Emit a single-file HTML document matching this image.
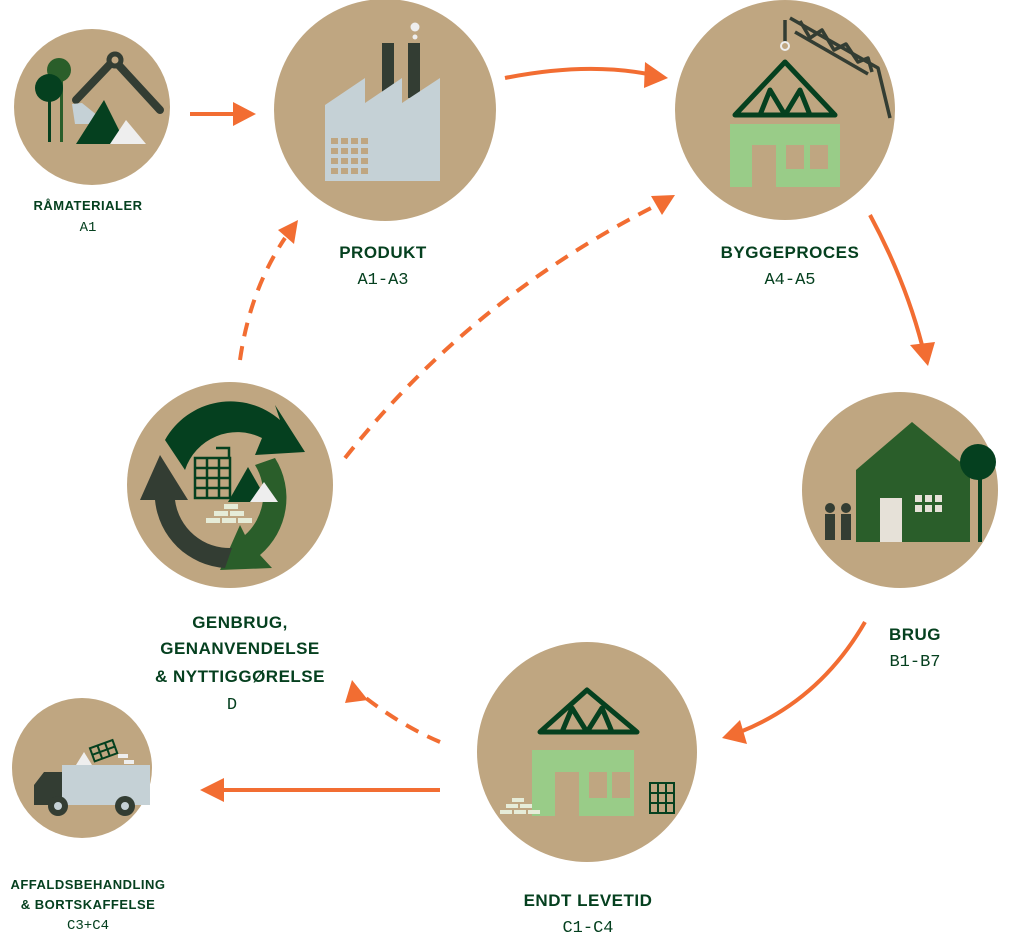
<!DOCTYPE html>
<html><head><meta charset="utf-8"><style>
body{margin:0;background:#fff}
svg{display:block}
.t{font-family:"Liberation Sans",sans-serif;font-weight:bold;fill:#05401f;text-anchor:middle;letter-spacing:0.5px}
.s{font-family:"Liberation Mono",monospace;fill:#05401f;text-anchor:middle}
</style></head><body>
<svg width="1024" height="942" viewBox="0 0 1024 942">
<g fill="#bfa681">
<circle cx="92" cy="107" r="78"/>
<circle cx="385" cy="110" r="111"/>
<circle cx="785" cy="110" r="110"/>
<circle cx="900" cy="490" r="98"/>
<circle cx="587" cy="752" r="110"/>
<circle cx="230" cy="485" r="103"/>
<circle cx="82" cy="768" r="70"/>
</g>
<!-- arrows -->
<g stroke="#f26d32" stroke-width="4" fill="none">
<path d="M190 114 L235 114"/>
<path d="M505 78 Q585 62 648 74"/>
<path d="M870 215 Q905 280 922 345"/>
<path d="M865 622 Q820 700 740 732"/>
<path d="M440 790 L222 790"/>
<g stroke-dasharray="14 10">
<path d="M240 360 Q250 290 285 238"/>
<path d="M345 458 Q470 300 655 206"/>
<path d="M440 742 Q400 725 362 695"/>
</g>
</g>
<g fill="#f26d32">
<path d="M233 102 L256 114 L233 126z"/>
<path d="M645 62 L668 78 L644 88z"/>
<path d="M910 345 L935 342 L928 366z"/>
<path d="M740 720 L722 738 L747 744z"/>
<path d="M224 778 L200 790 L224 802z"/>
<path d="M278 230 L298 220 L294 244z"/>
<path d="M651 196 L675 195 L662 215z"/>
<path d="M352 680 L345 703 L368 700z"/>
</g>
<!-- raw materials icon -->
<rect x="48" y="92" width="3" height="50" fill="#05401f"/>
<rect x="60" y="80" width="3" height="62" fill="#2a5e2a"/>
<circle cx="59" cy="70" r="12" fill="#2a5e2a"/>
<circle cx="49" cy="88" r="14" fill="#05401f"/>
<path d="M76 100 L114 60 L160 110" stroke="#333d33" stroke-width="8" fill="none" stroke-linecap="round"/>
<circle cx="115" cy="60" r="6" fill="#bfa681" stroke="#333d33" stroke-width="5"/>
<path d="M72 104 L82 103 L108 124 L75 124z" fill="#c5d1d6"/>
<path d="M76 144 L104 100 L126 144z" fill="#05401f"/>
<path d="M110 144 L126 120 L146 144z" fill="#eee"/>
<!-- factory -->
<rect x="382" y="43" width="12" height="50" fill="#333d33"/>
<rect x="408" y="43" width="12" height="55" fill="#333d33"/>
<circle cx="415" cy="27" r="4.5" fill="#eee"/><circle cx="415" cy="37" r="2.5" fill="#eee"/>
<path d="M325 105 L365 78 L365 103 L402 78 L402 103 L440 78 L440 181 L325 181z" fill="#c5d1d6"/>
<g fill="#bfa681">
<rect x="331" y="138" width="7" height="6"/><rect x="341" y="138" width="7" height="6"/><rect x="351" y="138" width="7" height="6"/><rect x="361" y="138" width="7" height="6"/>
<rect x="331" y="148" width="7" height="6"/><rect x="341" y="148" width="7" height="6"/><rect x="351" y="148" width="7" height="6"/><rect x="361" y="148" width="7" height="6"/>
<rect x="331" y="158" width="7" height="6"/><rect x="341" y="158" width="7" height="6"/><rect x="351" y="158" width="7" height="6"/><rect x="361" y="158" width="7" height="6"/>
<rect x="331" y="168" width="7" height="6"/><rect x="341" y="168" width="7" height="6"/><rect x="351" y="168" width="7" height="6"/><rect x="361" y="168" width="7" height="6"/>
</g>
<!-- byggeproces crane -->
<g stroke="#333d33" stroke-width="3.5" fill="none" stroke-linejoin="round">
<path d="M790 18 L878 68 L890 118"/>
<path d="M795 32 L868 74"/>
<path d="M800 21 L810 38 L822 30 L834 50 L846 44 L858 62 L868 58 L872 72"/>
<path d="M785 20 L785 42"/>
</g>
<circle cx="785" cy="46" r="4" fill="none" stroke="#eee" stroke-width="2"/>
<path d="M735 115 L785 62 L835 115z M760 115 L770 90 L785 115 L800 90 L810 115" stroke="#05401f" stroke-width="5" fill="none" stroke-linejoin="round"/>
<rect x="730" y="124" width="110" height="63" fill="#99cc88"/>
<rect x="752" y="145" width="24" height="42" fill="#bfa681"/>
<rect x="786" y="145" width="18" height="24" fill="#bfa681"/><rect x="810" y="145" width="18" height="24" fill="#bfa681"/>
<!-- brug -->
<path d="M856 470 L912 422 L970 470 L970 542 L856 542z" fill="#2a5e2a"/>
<rect x="880" y="498" width="22" height="44" fill="#e6e1d8"/>
<g fill="#e6e1d8"><rect x="915" y="495" width="7" height="7"/><rect x="925" y="495" width="7" height="7"/><rect x="935" y="495" width="7" height="7"/><rect x="915" y="505" width="7" height="7"/><rect x="925" y="505" width="7" height="7"/><rect x="935" y="505" width="7" height="7"/></g>
<rect x="978" y="470" width="4" height="72" fill="#05401f"/>
<circle cx="978" cy="462" r="18" fill="#05401f"/>
<g fill="#333d33"><circle cx="830" cy="508" r="5"/><rect x="825" y="514" width="10" height="26"/><circle cx="846" cy="508" r="5"/><rect x="841" y="514" width="10" height="26"/></g>
<!-- genbrug -->
<path d="M165 440 A75 75 0 0 1 280 420 L275 405 L305 452 L255 455 L262 438 A55 55 0 0 0 185 470z" fill="#05401f"/>
<path d="M275 458 A75 75 0 0 1 260 555 L272 568 L220 570 L240 525 L245 535 A55 55 0 0 0 255 465z" fill="#2a5e2a"/>
<path d="M225 568 A75 75 0 0 1 155 500 L140 500 L160 455 L188 500 L175 500 A55 55 0 0 0 232 548z" fill="#333d33"/>
<g stroke="#05401f" stroke-width="2.5" fill="none"><rect x="195" y="458" width="35" height="40"/><path d="M207 458v40M219 458v40M195 468h35M195 478h35M195 488h35M216 448h13v10"/></g>
<path d="M228 502 L248 467 L268 502z" fill="#05401f"/><path d="M250 502 L264 482 L278 502z" fill="#eee"/>
<g fill="#e6ecd8"><rect x="224" y="504" width="14" height="5"/><rect x="214" y="511" width="14" height="5"/><rect x="230" y="511" width="14" height="5"/><rect x="206" y="518" width="14" height="5"/><rect x="222" y="518" width="14" height="5"/><rect x="238" y="518" width="14" height="5"/></g>
<!-- endt levetid -->
<path d="M540 732 L587 690 L637 732z M562 732 L572 708 L587 732 L602 708 L612 732" stroke="#05401f" stroke-width="5" fill="none" stroke-linejoin="round"/>
<rect x="532" y="750" width="102" height="66" fill="#99cc88"/>
<rect x="555" y="772" width="24" height="44" fill="#bfa681"/>
<rect x="589" y="772" width="18" height="26" fill="#bfa681"/><rect x="612" y="772" width="18" height="26" fill="#bfa681"/>
<g stroke="#05401f" stroke-width="2" fill="none"><rect x="650" y="783" width="24" height="30"/><path d="M658 783v30M666 783v30M650 793h24M650 803h24"/></g>
<g fill="#e6ecd8"><rect x="512" y="798" width="12" height="4"/><rect x="506" y="804" width="12" height="4"/><rect x="520" y="804" width="12" height="4"/><rect x="500" y="810" width="12" height="4"/><rect x="514" y="810" width="12" height="4"/><rect x="528" y="810" width="12" height="4"/></g>
<!-- truck -->
<rect x="62" y="765" width="88" height="40" fill="#c5d1d6"/>
<path d="M34 805 L34 785 L44 772 L62 772 L62 805z" fill="#333d33"/>
<path d="M76 765 L84 752 L92 765z" fill="#eee"/>
<g stroke="#05401f" stroke-width="2" fill="none" transform="rotate(-20 103 752)"><rect x="92" y="744" width="24" height="14"/><path d="M100 744v14M108 744v14M92 751h24"/></g>
<g fill="#eee"><rect x="118" y="754" width="10" height="4"/><rect x="124" y="760" width="10" height="4"/></g>
<circle cx="58" cy="806" r="10" fill="#333d33"/><circle cx="58" cy="806" r="4" fill="#c5d1d6"/>
<circle cx="125" cy="806" r="10" fill="#333d33"/><circle cx="125" cy="806" r="4" fill="#c5d1d6"/>
<!-- labels -->
<text class="t" x="88" y="210" font-size="13">RÅMATERIALER</text>
<text class="s" x="88" y="231" font-size="14">A1</text>
<text class="t" x="383" y="258" font-size="17">PRODUKT</text>
<text class="s" x="383" y="284" font-size="17">A1-A3</text>
<text class="t" x="790" y="258" font-size="17">BYGGEPROCES</text>
<text class="s" x="790" y="284" font-size="17">A4-A5</text>
<text class="t" x="915" y="640" font-size="17">BRUG</text>
<text class="s" x="915" y="666" font-size="17">B1-B7</text>
<text class="t" x="240" y="628" font-size="17">GENBRUG,</text>
<text class="t" x="240" y="654" font-size="17">GENANVENDELSE</text>
<text class="t" x="240" y="682" font-size="17">&amp; NYTTIGGØRELSE</text>
<text class="s" x="232" y="709" font-size="17">D</text>
<text class="t" x="588" y="906" font-size="17">ENDT LEVETID</text>
<text class="s" x="588" y="932" font-size="17">C1-C4</text>
<text class="t" x="88" y="889" font-size="13">AFFALDSBEHANDLING</text>
<text class="t" x="88" y="909" font-size="13">&amp; BORTSKAFFELSE</text>
<text class="s" x="88" y="929" font-size="14">C3+C4</text>
</svg>
</body></html>
